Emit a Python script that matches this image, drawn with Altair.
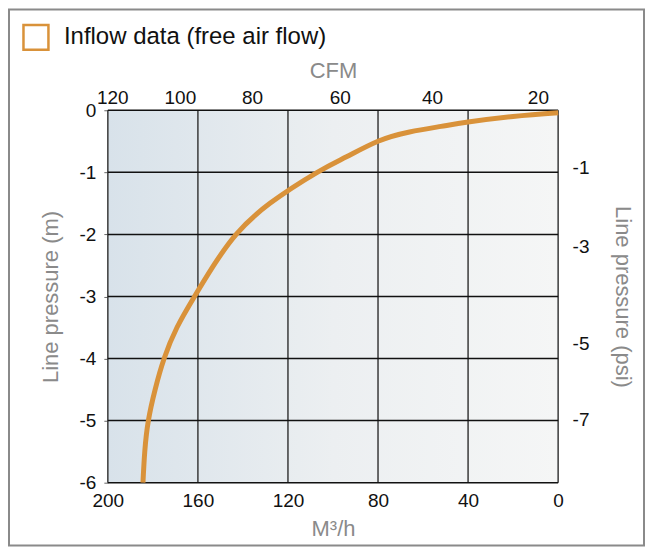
import altair as alt
import pandas as pd

# Curve: free air flow (M3/h) vs line pressure (m)
flow_m3h = [184.4, 183.6, 182.0, 179.0, 175.0, 169.3, 161.5, 153.0, 143.0, 128.0, 107.0, 94.0, 80.0, 66.0, 52.0, 40.0, 20.0, 0.0]
pressure_m = [-6.0, -5.5, -5.0, -4.5, -4.0, -3.5, -3.0, -2.5, -2.0, -1.5, -1.0, -0.75, -0.5, -0.35, -0.26, -0.19, -0.1, -0.04]
series_name = "Inflow data (free air flow)"

# Axes
x_ticks = [200, 160, 120, 80, 40, 0]
y_ticks = [0, -1, -2, -3, -4, -5, -6]
cfm_labels = ["120", "100", "80", "60", "40", "20"]
cfm_pos_m3h = [198, 168, 136, 97, 56, 9]
psi_labels = ["-1", "-3", "-5", "-7"]
psi_pos_m = [-0.93, -2.2, -3.75, -4.98]

W, H = 451, 373
TICK_FONT = "Liberation Sans Narrow, Arial Narrow, Liberation Sans, Arial"
TITLE_FONT = "Liberation Sans, Arial"
GREY = "#8a8a8a"
ORANGE = "#d9923a"

curve = pd.DataFrame({"m3h": flow_m3h, "m": pressure_m, "series": series_name})
one = pd.DataFrame({"a": [0]})
vdf = pd.DataFrame({"xv": x_ticks})
hdf = pd.DataFrame({"yv": y_ticks})

xs = alt.Scale(domain=[0, 200], reverse=True, nice=False)
ys = alt.Scale(domain=[-6, 0], nice=False)

def ternary(vals, labels):
    expr = "''"
    for v, l in reversed(list(zip(vals, labels))):
        expr = f"abs(datum.value - ({v})) < 0.001 ? '{l}' : ({expr})"
    return expr

bottom_axis = alt.Axis(values=x_ticks, title="M³/h", grid=False, ticks=False, domain=False,
                       labelFlush=False,
                       labelFont=TICK_FONT, labelFontSize=19, labelColor="#111", labelPadding=9,
                       titleFont=TITLE_FONT, titleFontSize=22, titleFontWeight="normal",
                       titleColor=GREY, titlePadding=8)
left_axis = alt.Axis(values=y_ticks, labelExpr="'' + datum.value", title="Line pressure (m)",
                     grid=False, ticks=True, tickSize=4,
                     tickColor="#666", domain=False, labelFont=TICK_FONT, labelFontSize=19,
                     labelColor="#111", labelPadding=8, titleFont=TITLE_FONT, titleFontSize=22,
                     titleFontWeight="normal", titleColor=GREY, titlePadding=17)

border = alt.Chart(one).mark_rect(fill="transparent", stroke=GREY, strokeWidth=2).encode(
    x=alt.value(-99), x2=alt.value(537), y=alt.value(-101), y2=alt.value(436))

bg = alt.Chart(one).mark_rect(
    color=alt.Gradient(gradient="linear",
                       stops=[alt.GradientStop(color="#d8e2ea", offset=0),
                              alt.GradientStop(color="#eceff1", offset=0.5),
                              alt.GradientStop(color="#f5f6f6", offset=1)],
                       x1=0, x2=1, y1=0, y2=0)
).encode(
    x=alt.X("x0:Q", scale=xs, axis=bottom_axis), x2=alt.X2("x1:Q"),
    y=alt.Y("y0:Q", scale=ys, axis=left_axis), y2=alt.Y2("y1:Q"),
).transform_calculate(x0="200", x1="0", y0="-6", y1="0")

vrules = alt.Chart(vdf).mark_rule(color="#3a3a3a", strokeWidth=1.5).encode(
    x=alt.X("xv:Q", scale=xs, axis=bottom_axis))
hrules = alt.Chart(hdf).mark_rule(color="#111", strokeWidth=1.5).encode(
    y=alt.Y("yv:Q", scale=ys, axis=left_axis))

line = alt.Chart(curve).mark_line(strokeWidth=5, interpolate="natural").encode(
    x=alt.X("m3h:Q", scale=xs, axis=bottom_axis),
    y=alt.Y("m:Q", scale=ys, axis=left_axis),
    order=alt.Order("m3h:Q", sort="descending"),
    color=alt.Color("series:N", scale=alt.Scale(range=[ORANGE]),
                    legend=alt.Legend(title=None, orient="none", legendX=-86, legendY=-87,
                                      symbolType="square", symbolSize=625, symbolStrokeWidth=2.5,
                                      symbolFillColor="transparent", padding=0,
                                      labelFont=TITLE_FONT, labelFontSize=24, labelColor="#111",
                                      labelOffset=14, labelLimit=500)),
)

inner = alt.layer(border, bg, vrules, hrules, line)

ghost = alt.Chart(curve).mark_point(opacity=0).encode(
    x=alt.X("m3h:Q", scale=alt.Scale(domain=[0, 200], reverse=True, nice=False),
            axis=alt.Axis(orient="top", values=cfm_pos_m3h, labelExpr=ternary(cfm_pos_m3h, cfm_labels),
                          title="CFM", grid=False, ticks=False, domain=False, labelFlush=False,
                          labelFont=TICK_FONT, labelFontSize=19, labelColor="#111", labelPadding=3,
                          titleFont=TITLE_FONT, titleFontSize=22, titleFontWeight="normal",
                          titleColor=GREY, titlePadding=6)),
    y=alt.Y("m:Q", scale=alt.Scale(domain=[-6, 0], nice=False),
            axis=alt.Axis(orient="right", values=psi_pos_m, labelExpr=ternary(psi_pos_m, psi_labels),
                          title="Line pressure (psi)", grid=False, ticks=False, domain=False,
                          labelFont=TICK_FONT, labelFontSize=19, labelColor="#111", labelPadding=14,
                          titleFont=TITLE_FONT, titleFontSize=22, titleFontWeight="normal",
                          titleColor=GREY, titlePadding=22)),
)

chart = alt.layer(inner, ghost).resolve_scale(x="independent", y="independent").properties(
    width=W, height=H, padding=0, background="white"
).configure_view(stroke=None)

chart.save("out.html", embed_options={"renderer": "svg", "actions": False})
